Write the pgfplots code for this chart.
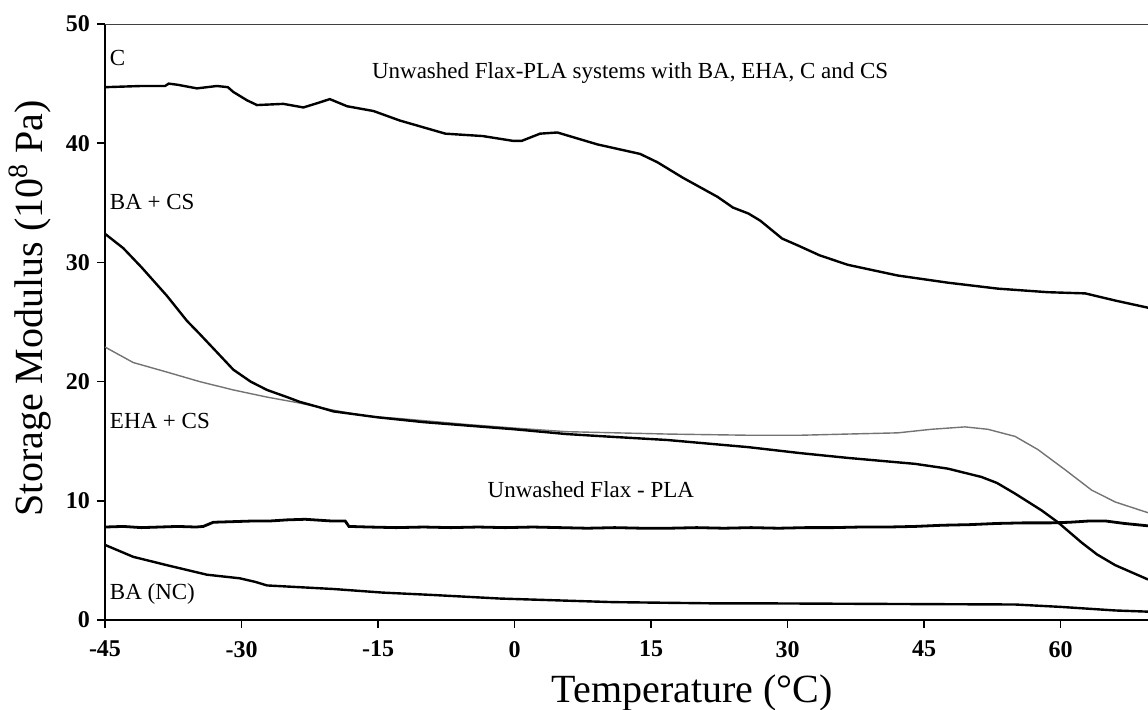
\documentclass[border=0pt]{standalone}
\usepackage{fontspec}
\setmainfont{Liberation Serif}
\usepackage{pgfplots}
\pgfplotsset{compat=1.18}

% storage modulus curves
\pgfplotstableread{
x y
-45 44.7
-41 44.8
-38.4 44.8
-38 45.0
-37 44.9
-34.9 44.6
-32.7 44.8
-31.5 44.7
-30.9 44.3
-29.4 43.6
-28.3 43.2
-25.4 43.3
-23.2 43.0
-21.5 43.4
-20.3 43.7
-18.4 43.1
-15.5 42.7
-12.6 41.9
-7.6 40.8
-3.5 40.6
-0.2 40.2
0.8 40.2
2.8 40.8
4.7 40.9
9.1 39.9
13.8 39.1
15.7 38.4
18.5 37.1
22.3 35.5
24.0 34.6
25.7 34.1
27.0 33.5
29.4 32.0
31.2 31.4
33.5 30.6
36.6 29.8
42.1 28.9
47.6 28.3
53.1 27.8
58.6 27.5
62.7 27.4
66.0 26.8
69.6 26.2
}\curveC

\pgfplotstableread{
x y
-45 32.4
-43 31.2
-41 29.6
-38.2 27.2
-36 25.1
-34.6 24.0
-32.5 22.3
-30.9 21.0
-29 20.0
-27.2 19.3
-25 18.7
-23.6 18.3
-21.7 17.9
-19.9 17.5
-15 17.0
-10 16.6
-5 16.3
0 16.0
5.7 15.6
10 15.4
16.8 15.1
25.7 14.5
31.4 14.0
36.6 13.6
44.0 13.1
47.6 12.7
51.3 12.0
53 11.5
55.0 10.6
57.9 9.2
59.7 8.2
62.3 6.5
64 5.5
66.0 4.6
69.6 3.4
}\curveBACS

\pgfplotstableread{
x y
-45 22.9
-41.9 21.6
-38.2 20.8
-34.6 20.0
-30.9 19.3
-27.2 18.7
-23.6 18.2
-19.9 17.6
-16.2 17.1
-12.6 16.9
-5.2 16.4
0 16.1
5.7 15.8
16.8 15.6
25.7 15.5
31.4 15.5
36.6 15.6
42.1 15.7
45.8 16.0
49.5 16.2
52.0 16.0
55.0 15.4
57.5 14.3
60.5 12.6
63.4 10.9
66.0 9.9
69.6 9.0
}\curveEHACS

\pgfplotstableread{
x y
-45 7.8
-43 7.85
-41 7.75
-39 7.8
-37 7.85
-35 7.8
-34.2 7.85
-33.1 8.2
-31 8.25
-29 8.3
-27 8.3
-25 8.4
-23 8.45
-22 8.4
-20 8.3
-18.6 8.3
-18.2 7.85
-16 7.8
-13 7.75
-10 7.8
-7 7.75
-4 7.8
-1 7.75
2 7.8
5 7.75
8 7.7
11 7.75
14 7.7
17 7.7
20 7.75
23 7.7
26 7.75
29 7.7
32 7.75
35 7.75
38 7.8
41 7.8
44 7.85
47 7.95
50 8.0
53 8.1
56 8.15
59 8.15
61 8.2
63 8.3
65 8.3
67 8.1
69.6 7.9
}\curveFlax

\pgfplotstableread{
x y
-45 6.3
-41.9 5.3
-38.2 4.6
-33.8 3.8
-30.2 3.5
-28.5 3.2
-27.2 2.9
-19.9 2.6
-14.5 2.3
-9 2.1
-1.6 1.8
10.8 1.5
21.5 1.4
25.7 1.4
40 1.35
55 1.3
60 1.1
66 0.8
69.6 0.7
}\curveBANC

\begin{document}
\begin{tikzpicture}[note/.style={anchor=base west, inner sep=0, font=\fontsize{11.5}{14}\selectfont}]
\begin{axis}[
    name=ax,
    scale only axis,
    width=521.5pt, height=298pt,
    xmin=-45, xmax=69.6,
    ymin=0, ymax=50,
    enlargelimits=false,
    axis x line=bottom,
    axis y line=left,
    axis line style={-, line width=1pt},
    tick align=outside,
    major tick length=4pt,
    tick style={line width=0.8pt, black},
    xtick={-45,-30,...,60},
    ytick={0,10,...,50},
    /pgf/number format/assume math mode=true,
    tick label style={font=\bfseries\fontsize{12}{14}\selectfont},
    xticklabel style={yshift=-3pt},
    xlabel={Temperature (°C)},
    ylabel={Storage Modulus (10\textsuperscript{8} Pa)},
    label style={font=\fontsize{20}{24}\selectfont},
    xlabel style={at={(axis description cs:0.563,-0.1376)}, anchor=base},
    ylabel style={at={(axis description cs:-0.072,0.523)}, anchor=center},
]
\draw[line width=0.6pt, black!75] (axis description cs:0,1) -- (axis description cs:1,1);

\addplot[line width=1.2pt, black] table {\curveC};
\addplot[line width=0.7pt, black!55] table {\curveEHACS};
\addplot[line width=1.2pt, black] table {\curveBACS};
\addplot[line width=1.4pt, black] table {\curveFlax};
\addplot[line width=1.2pt, black] table {\curveBANC};

\node[note] at (axis cs:-44.5,46.5) {C};
\node[note] at (axis cs:-15.7,45.4) {Unwashed Flax-PLA systems with BA, EHA, C and CS};
\node[note] at (axis cs:-44.5,34.4) {BA + CS};
\node[note] at (axis cs:-44.5,16.1) {EHA + CS};
\node[note] at (axis cs:-3.0,10.3) {Unwashed Flax - PLA};
\node[note] at (axis cs:-44.5,1.76) {BA (NC)};
\end{axis}
\pgfresetboundingbox
\path (ax.south west) ++(-52.5pt,-44.5pt) rectangle ++(574pt,354.5pt);
\end{tikzpicture}
\end{document}
